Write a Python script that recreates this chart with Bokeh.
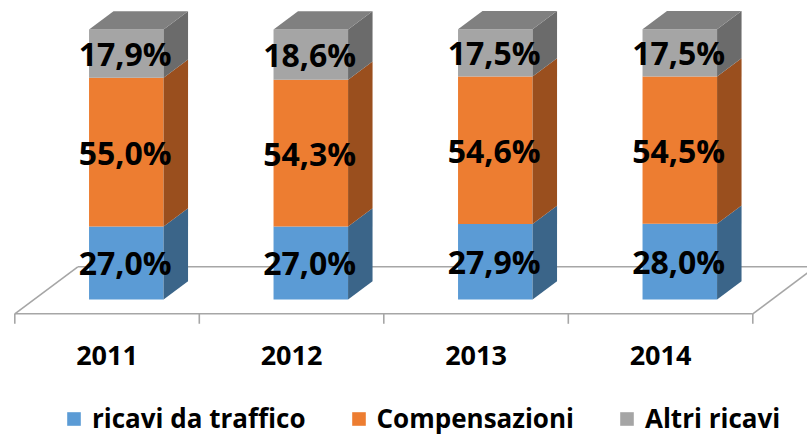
from bokeh.plotting import figure
from bokeh.models import Range1d, Legend, LegendItem
from bokeh.core.properties import value
from bokeh.embed import file_html
from bokeh.resources import INLINE

# ---- data ----
years = ["2011", "2012", "2013", "2014"]
series_names = ["ricavi da traffico", "Compensazioni", "Altri ricavi"]
ricavi_traffico = [27.0, 27.0, 27.9, 28.0]
compensazioni = [55.0, 54.3, 54.6, 54.5]
altri_ricavi = [17.9, 18.6, 17.5, 17.5]
series_values = [ricavi_traffico, compensazioni, altri_ricavi]

# ---- style ----
front_colors = ["#5B9BD5", "#ED7D31", "#A5A5A5"]
side_colors = ["#3B6589", "#9A4F1E", "#6B6B6B"]
top_color = "#808080"
floor_color = "#A6A6A6"
FONT = "Open Sans"

# ---- geometry (pseudo 3D projection) ----
W, H = 807, 436
PX_X = 184.5           # px per category
PX_Y = 2.703           # px per percent
DX = 63 / PX_X         # floor depth, x units
DY = 47 / PX_Y         # floor depth, y units
ZF, ZB = 0.3056, 0.694 # bar front/back depth fraction
HALF = 0.202           # bar half width

x0 = -0.5 - 14.3 / PX_X
y1 = 313.3 / PX_Y
p = figure(width=W, height=H,
           x_range=Range1d(x0, x0 + W / PX_X),
           y_range=Range1d(y1 - H / PX_Y, y1),
           output_backend="svg", toolbar_location=None, min_border=0,
           x_axis_location=None, y_axis_location=None)
p.grid.visible = False
p.outline_line_color = None
p.background_fill_color = "white"
p.border_fill_color = "white"

n = len(years)
xl, xr = -0.5, n - 0.5

# floor outline
p.multi_line(xs=[[xl, xr], [xl + DX, xr + DX], [xl, xl + DX], [xr, xr + DX]],
             ys=[[0, 0], [DY, DY], [0, DY], [0, DY]],
             line_color=floor_color, line_width=1.6)
tick_len = 10 / PX_Y
p.multi_line(xs=[[xl + k, xl + k] for k in range(n + 1)],
             ys=[[0, -tick_len] for k in range(n + 1)],
             line_color=floor_color, line_width=1.6)

# bars
renderers = []
cum = [0.0] * n
lab_x, lab_y, lab_t = [], [], []
for s, vals in enumerate(series_values):
    bottoms = list(cum)
    tops = [b + v for b, v in zip(bottoms, vals)]
    left = [i - HALF + ZF * DX for i in range(n)]
    right = [i + HALF + ZF * DX for i in range(n)]
    fr = p.quad(left=left, right=right,
                bottom=[b + ZF * DY for b in bottoms],
                top=[t + ZF * DY for t in tops],
                fill_color=front_colors[s], line_color=None)
    renderers.append(fr)
    sx, sy = [], []
    for i in range(n):
        rx = right[i]
        sx.append([rx, rx + (ZB - ZF) * DX, rx + (ZB - ZF) * DX, rx])
        sy.append([bottoms[i] + ZF * DY, bottoms[i] + ZB * DY,
                   tops[i] + ZB * DY, tops[i] + ZF * DY])
    p.patches(xs=sx, ys=sy, fill_color=side_colors[s], line_color=None)
    if s == len(series_values) - 1:
        tx, ty = [], []
        for i in range(n):
            l, r = left[i], right[i]
            d = (ZB - ZF) * DX
            tx.append([l, r, r + d, l + d])
            ty.append([tops[i] + ZF * DY, tops[i] + ZF * DY,
                       tops[i] + ZB * DY, tops[i] + ZB * DY])
        p.patches(xs=tx, ys=ty, fill_color=top_color, line_color=None)
    for i in range(n):
        lab_x.append(i + ZF * DX - 0.006)
        lab_y.append((bottoms[i] + tops[i]) / 2 + ZF * DY)
        lab_t.append(f"{vals[i]:.1f}".replace(".", ",") + "%")
    cum = tops

p.text(x=lab_x, y=lab_y, text=lab_t, text_align="center", text_baseline="middle",
       text_font=value(FONT), text_font_style="bold", text_font_size="32px",
       text_color="black")

# category labels
year_y = (313.3 - 355) / PX_Y
p.text(x=list(range(n)), y=[year_y] * n, text=years, text_align="center",
       text_baseline="middle", text_font=value(FONT), text_font_style="bold",
       text_font_size="27px", text_color="black")

legend = Legend(items=[LegendItem(label=nm, renderers=[r]) for nm, r in zip(series_names, renderers)],
                orientation="horizontal", location=(65, 0),
                glyph_width=17, glyph_height=17, label_standoff=10, spacing=44,
                padding=0, margin=0, background_fill_alpha=0, border_line_alpha=0,
                label_text_font=FONT, label_text_font_style="bold",
                label_text_font_size="26px", label_text_color="black")
p.add_layout(legend)

open("out.html", "w").write(file_html(p, INLINE))
